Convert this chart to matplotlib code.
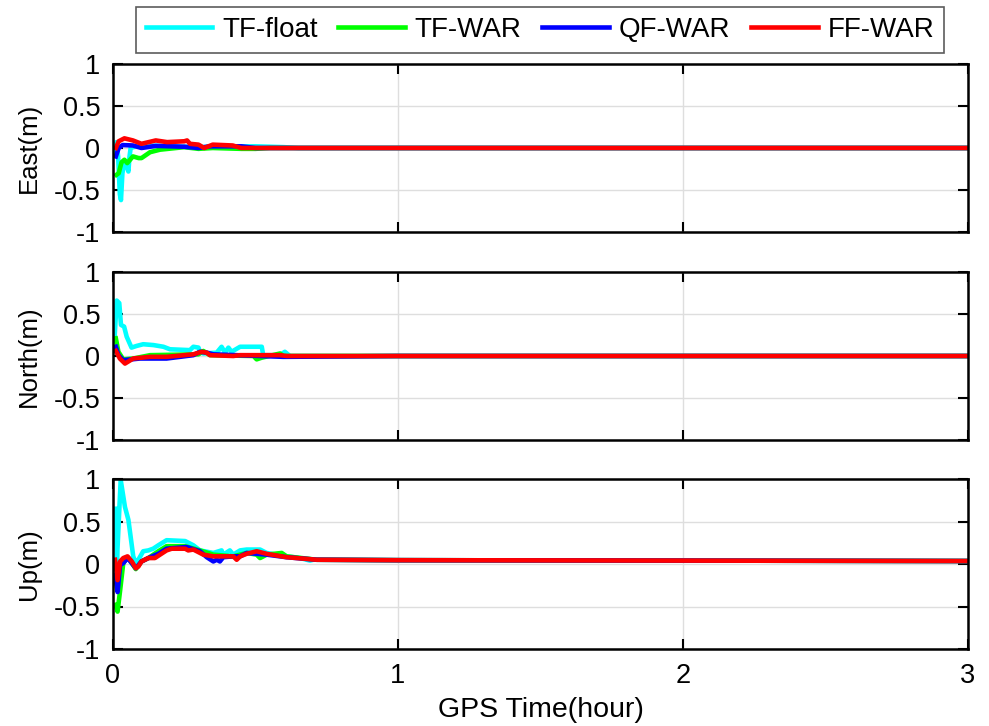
import matplotlib
matplotlib.use('Agg')
import matplotlib.pyplot as plt
import numpy as np

plt.rcParams['font.family'] = ['Liberation Sans', 'DejaVu Sans']
plt.rcParams['font.size'] = 19.5

# Tên các phương pháp và màu
labels = ['TF-float', 'TF-WAR', 'QF-WAR', 'FF-WAR']
colors = ['#00ffff', '#00ff00', '#0000ff', '#ff0000']
panel_names = ['East(m)', 'North(m)', 'Up(m)']

# East: (thời gian giờ, sai số m)
east_t = [
    [0.007, 0.012, 0.018, 0.024, 0.028, 0.033, 0.04, 0.048, 0.054, 0.058, 0.062, 0.08, 0.12, 0.2, 0.3, 0.4, 0.5, 0.6, 0.65, 1.0, 3.0],
    [0.012, 0.02, 0.03, 0.04, 0.05, 0.07, 0.09, 0.1, 0.13, 0.165, 0.25, 0.3, 0.35, 0.45, 0.5, 0.55, 0.6, 1.0, 3.0],
    [0.01, 0.02, 0.034, 0.07, 0.1, 0.15, 0.25, 0.3, 0.34, 0.45, 0.5, 1.0, 3.0],
    [0.01, 0.02, 0.04, 0.07, 0.1, 0.15, 0.19, 0.25, 0.26, 0.27, 0.3, 0.32, 0.35, 0.42, 0.45, 0.6, 1.0, 3.0],
]
east_v = [
    [-0.08, 0.07, -0.1, -0.55, -0.62, -0.3, -0.18, -0.2, -0.28, -0.1, 0.0, 0.02, 0.03, 0.02, 0.01, 0.02, 0.02, 0.01, 0.0, 0.0, 0.0],
    [-0.32, -0.3, -0.17, -0.14, -0.18, -0.1, -0.12, -0.12, -0.05, -0.02, 0.01, -0.01, 0.0, -0.01, -0.01, 0.0, 0.0, 0.0, 0.0],
    [-0.1, 0.0, 0.035, 0.03, 0.0, 0.025, 0.015, 0.0, 0.02, 0.02, 0.0, 0.0, 0.0],
    [0.0, 0.08, 0.115, 0.09, 0.05, 0.09, 0.07, 0.08, 0.09, 0.05, 0.04, 0.0, 0.04, 0.03, 0.0, 0.0, 0.0, 0.0],
]

# North
north_t = [
    [0.003, 0.013, 0.022, 0.028, 0.039, 0.048, 0.065, 0.083, 0.106, 0.142, 0.177, 0.2, 0.27, 0.282, 0.3, 0.305, 0.317, 0.364, 0.381, 0.393, 0.405, 0.416, 0.446, 0.522, 0.527, 0.586, 0.603, 0.621, 1.0, 3.0],
    [0.01, 0.019, 0.036, 0.071, 0.13, 0.3, 0.317, 0.34, 0.493, 0.504, 0.522, 0.586, 0.598, 1.0, 3.0],
    [0.01, 0.019, 0.036, 0.095, 0.188, 0.282, 0.305, 0.329, 0.352, 0.598, 1.0, 3.0],
    [0.01, 0.024, 0.042, 0.071, 0.13, 0.188, 0.282, 0.31, 0.329, 0.34, 0.422, 0.446, 0.493, 0.586, 0.61, 1.0, 3.0],
]
north_v = [
    [0.07, 0.66, 0.63, 0.37, 0.35, 0.23, 0.10, 0.12, 0.14, 0.13, 0.11, 0.08, 0.07, 0.11, 0.10, 0.05, 0.03, 0.04, 0.11, 0.04, 0.10, 0.05, 0.11, 0.11, 0.01, 0.01, 0.05, 0.0, 0.0, 0.0],
    [0.21, 0.05, -0.04, -0.03, 0.01, 0.02, 0.06, 0.01, 0.0, -0.04, -0.02, 0.03, 0.0, 0.0, 0.0],
    [0.11, 0.01, -0.05, -0.03, -0.03, 0.01, 0.05, 0.04, 0.02, -0.01, 0.0, 0.0],
    [0.06, -0.03, -0.09, -0.03, -0.01, -0.01, 0.02, 0.05, 0.04, 0.01, 0.0, 0.01, 0.01, 0.01, 0.0, 0.0, 0.0],
]

# Up
up_t = [
    [0.009, 0.014, 0.027, 0.042, 0.054, 0.071, 0.08, 0.089, 0.106, 0.124, 0.141, 0.159, 0.188, 0.253, 0.282, 0.305, 0.352, 0.381, 0.387, 0.41, 0.422, 0.446, 0.469, 0.516, 0.539, 0.609, 0.656, 0.691, 0.703, 0.773, 1.0, 2.0, 3.0],
    [0.009, 0.016, 0.025, 0.036, 0.051, 0.066, 0.08, 0.1, 0.124, 0.159, 0.188, 0.253, 0.305, 0.352, 0.422, 0.469, 0.504, 0.516, 0.539, 0.592, 0.609, 0.715, 1.0, 2.0, 3.0],
    [0.007, 0.016, 0.025, 0.036, 0.051, 0.066, 0.08, 0.1, 0.124, 0.159, 0.188, 0.258, 0.305, 0.329, 0.352, 0.364, 0.375, 0.387, 0.422, 0.446, 0.469, 0.539, 0.609, 0.715, 1.0, 2.0, 3.0],
    [0.007, 0.016, 0.025, 0.036, 0.051, 0.066, 0.08, 0.089, 0.1, 0.124, 0.147, 0.165, 0.188, 0.206, 0.253, 0.264, 0.282, 0.317, 0.352, 0.422, 0.434, 0.446, 0.469, 0.504, 0.539, 0.609, 0.715, 1.0, 2.0, 3.0],
]
up_v = [
    [0.65, 0.05, 0.99, 0.67, 0.52, 0.09, 0.01, 0.05, 0.15, 0.16, 0.18, 0.22, 0.28, 0.27, 0.22, 0.16, 0.13, 0.16, 0.11, 0.16, 0.11, 0.16, 0.17, 0.17, 0.13, 0.09, 0.07, 0.04, 0.05, 0.05, 0.045, 0.04, 0.035],
    [-0.48, -0.56, -0.31, 0.01, 0.08, 0.01, -0.06, 0.03, 0.07, 0.15, 0.21, 0.21, 0.16, 0.11, 0.09, 0.13, 0.11, 0.07, 0.11, 0.13, 0.09, 0.05, 0.045, 0.04, 0.035],
    [-0.13, -0.33, -0.01, 0.01, 0.07, 0.01, -0.05, 0.03, 0.07, 0.12, 0.18, 0.20, 0.15, 0.08, 0.03, 0.05, 0.03, 0.08, 0.09, 0.09, 0.13, 0.11, 0.08, 0.05, 0.045, 0.04, 0.035],
    [0.05, -0.19, 0.03, 0.07, 0.09, 0.03, -0.05, -0.03, 0.03, 0.07, 0.07, 0.11, 0.16, 0.18, 0.18, 0.16, 0.17, 0.11, 0.09, 0.09, 0.05, 0.09, 0.12, 0.15, 0.12, 0.08, 0.05, 0.045, 0.04, 0.035],
]

all_t = [east_t, north_t, up_t]
all_v = [east_v, north_v, up_v]

yticks = [-1, -0.5, 0, 0.5, 1]
yticklabels = ['-1', '-0.5', '0', '0.5', '1']
xticks = [0, 1, 2, 3]

fig = plt.figure(figsize=(9.89, 7.26), dpi=100)
# Vị trí các trục theo pixel của ảnh gốc
rects = [
    [113/989, 1 - 232/726, 855/989, 168/726],
    [113/989, 1 - 440/726, 855/989, 168/726],
    [113/989, 1 - 649/726, 855/989, 170/726],
]

handles = []
for k in range(3):
    ax = fig.add_axes(rects[k])
    for i in range(4):
        h, = ax.plot(all_t[k][i], all_v[k][i], color=colors[i], linewidth=3.3, label=labels[i],
                     solid_joinstyle='round')
        if k == 0:
            handles.append(h)
    ax.set_xlim(0, 3)
    ax.set_ylim(-1, 1)
    ax.set_yticks(yticks)
    ax.set_yticklabels(yticklabels)
    ax.set_xticks(xticks)
    if k < 2:
        ax.set_xticklabels([])
    else:
        ax.set_xticklabels(['0', '1', '2', '3'])
        ax.set_xlabel('GPS Time(hour)', fontsize=20.5, labelpad=6)
    ax.set_ylabel(panel_names[k], fontsize=18.5, labelpad=9)
    ax.grid(True, color='#dedede', linewidth=1)
    ax.set_axisbelow(True)
    ax.tick_params(direction='in', length=7, width=1.5, top=True, right=True)
    ax.tick_params(axis='y', pad=9)
    ax.tick_params(axis='x', pad=10)
    for sp in ax.spines.values():
        sp.set_linewidth(1.8)

leg = fig.legend(handles=handles, loc='upper center', ncol=4, bbox_to_anchor=(0.546, 0.99),
                 frameon=True, fancybox=False, edgecolor='#333333', fontsize=20,
                 handlelength=2.4, columnspacing=0.75, handletextpad=0.35, borderpad=0.35,
                 borderaxespad=0.0)
leg.get_frame().set_linewidth(1.2)

plt.savefig('out.png', dpi=100)
plt.close()
